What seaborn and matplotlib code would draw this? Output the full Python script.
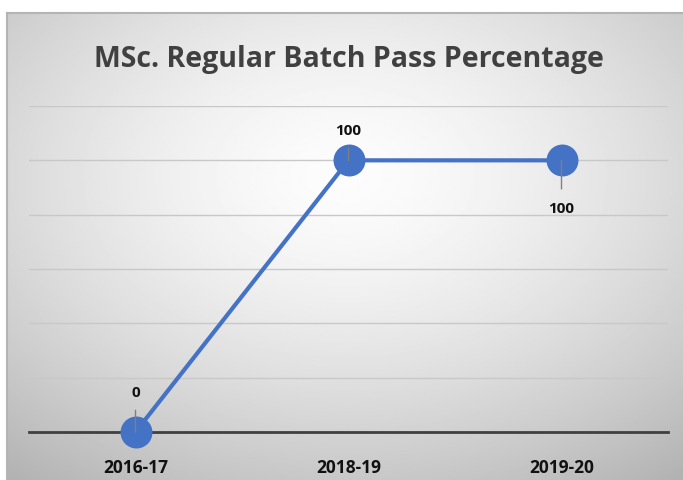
import numpy as np
import pandas as pd
import matplotlib.pyplot as plt
import seaborn as sns

# chart values
years = ["2016-17", "2018-19", "2019-20"]
pass_pct = [0, 100, 100]
label_offsets = [29, 22, -34]  # points, above/below each marker

df = pd.DataFrame({"Year": years, "Pass": pass_pct})

sns.set_theme(style="white")
plt.rcParams['font.family'] = ['Open Sans', 'DejaVu Sans']

fig = plt.figure(figsize=(6.83, 4.81), dpi=100)
fig.patch.set_facecolor("white")

# chart area with a soft radial gradient
bg = fig.add_axes([7 / 683, 0, 676 / 683, 467 / 481], zorder=0)
yy, xx = np.mgrid[-1:1:300j, -1:1:400j]
r = np.sqrt(xx ** 2 + (yy + 0.3) ** 2)
shade = np.clip(0.99 - 0.14 * r ** 1.5, 0, 1)
bg.imshow(shade, cmap="gray", vmin=0, vmax=1, aspect="auto", extent=[0, 1, 0, 1])
bg.set_xlim(0, 1)
bg.set_ylim(0, 1)
bg.set_xticks([])
bg.set_yticks([])
for side in ["right", "bottom"]:
    bg.spines[side].set_visible(False)
for side in ["top", "left"]:
    bg.spines[side].set_color("#b4b4b4")
    bg.spines[side].set_linewidth(1.5)

ax = fig.add_axes([29 / 683, 1 - 433 / 481, 639 / 683, 326 / 481], zorder=1)
ax.patch.set_alpha(0)

sns.lineplot(data=df, x="Year", y="Pass", ax=ax, color="#4472C4", linewidth=3,
             marker="o", markersize=23, markeredgewidth=0, clip_on=False, zorder=3)

ax.set_xlim(-0.5, 2.5)
ax.set_ylim(0, 120)
ax.set_yticks(range(0, 121, 20))
ax.yaxis.grid(True, color="#c8c8c8", linewidth=1)
ax.set_axisbelow(True)
ax.tick_params(axis="y", left=False, labelleft=False)
ax.tick_params(axis="x", bottom=False, pad=13)
for lbl in ax.get_xticklabels():
    lbl.set_fontweight("bold")
    lbl.set_fontsize(12.5)
    lbl.set_color("#111111")
ax.set_xlabel("")
ax.set_ylabel("")
for side in ["top", "right", "left"]:
    ax.spines[side].set_visible(False)
ax.spines["bottom"].set_color("#404040")
ax.spines["bottom"].set_linewidth(2)
ax.spines["bottom"].set_zorder(2)

for i, (v, off) in enumerate(zip(pass_pct, label_offsets)):
    ax.annotate(str(v), xy=(i, v), xytext=(0, off), textcoords="offset points",
                ha="center", va="center", fontsize=11, fontweight="bold", color="#111111",
                arrowprops=dict(arrowstyle="-", color="#808080", lw=1,
                                shrinkA=6, shrinkB=0),
                annotation_clip=False, zorder=5)

fig.text(0.511, 0.876, "MSc. Regular Batch Pass Percentage", ha="center", va="center",
         fontsize=20.5, fontweight="bold", color="#404040", zorder=2)

fig.savefig("out.png", dpi=100)
